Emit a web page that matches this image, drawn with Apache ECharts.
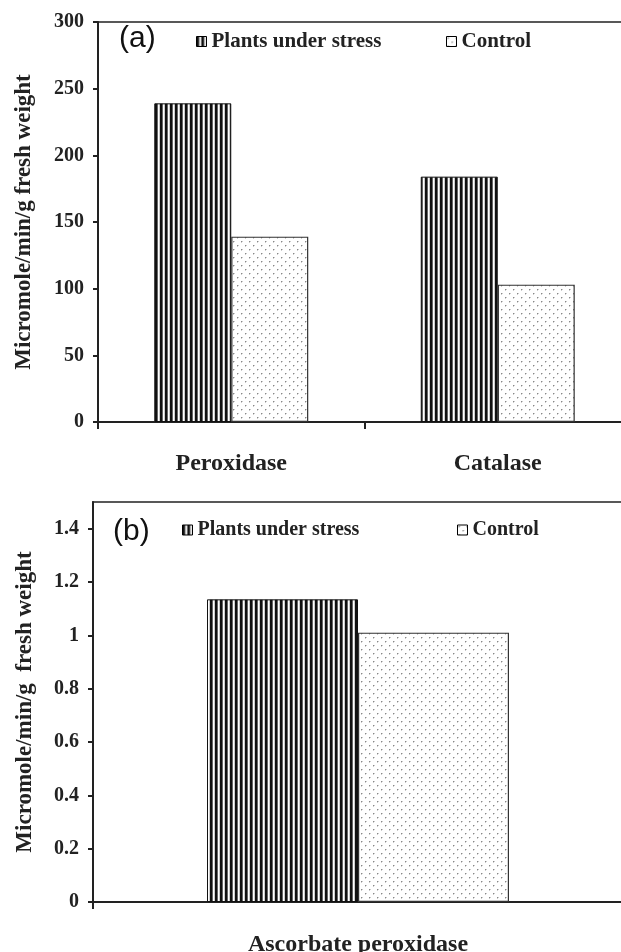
<!DOCTYPE html>
<html><head><meta charset="utf-8">
<script src="https://cdn.jsdelivr.net/npm/echarts@6/dist/echarts.min.js"></script>
<style>html,body{margin:0;padding:0;background:#fff}#c{width:621px;height:952px}</style>
</head><body><div id="c"></div>
<script>
// ---- data ----
const seriesNames = ['Plants under stress', 'Control'];
const categoriesA = ['Peroxidase', 'Catalase'];
const stressA = [239, 184];
const controlA = [139, 103];
const categoriesB = ['Ascorbate peroxidase'];
const stressB = [1.135];
const controlB = [1.01];
const yTicksB = [0, 0.2, 0.4, 0.6, 0.8, 1, 1.2, 1.4];
const yTitle = 'Micromole/min/g fresh weight';
const yTitleB = 'Micromole/min/g  fresh weight';

// ---- patterns ----
function stripes() {
  const c = document.createElement('canvas'); c.width = 5; c.height = 5;
  const g = c.getContext('2d');
  const cols = ['#111', '#111', '#666', '#fff', '#ccc'];
  cols.forEach((col, i) => { g.fillStyle = col; g.fillRect(i, 0, 1, 5); });
  return c;
}
function dots() {
  const c = document.createElement('canvas'); c.width = 8; c.height = 8;
  const g = c.getContext('2d');
  g.fillStyle = '#fff'; g.fillRect(0, 0, 8, 8);
  g.fillStyle = '#888'; g.fillRect(1, 1, 1, 1); g.fillRect(5, 5, 1, 1);
  g.fillStyle = '#ccc'; g.fillRect(2, 1, 1, 1); g.fillRect(6, 5, 1, 1);
  g.fillRect(1, 2, 1, 1); g.fillRect(5, 6, 1, 1);
  return c;
}
const stripePat = { image: stripes(), repeat: 'repeat' };
const dotPat = { image: dots(), repeat: 'repeat' };

const serif = '"Liberation Serif", "Times New Roman", serif';
const axisCol = '#222';

function legendItem(name, left, top, size) {
  return {
    data: [name], left: left, top: top, padding: 0, itemWidth: 10, itemHeight: 10,
    icon: 'rect', itemGap: 5, selectedMode: false,
    itemStyle: { borderColor: '#000', borderWidth: 1 },
    textStyle: { fontFamily: serif, fontWeight: 'bold', fontSize: size, color: '#222' }
  };
}

const chart = echarts.init(document.getElementById('c'), null, { renderer: 'canvas' });
chart.setOption({
  animation: false,
  backgroundColor: '#fff',
  grid: [
    { left: 98, top: 22, width: 533, height: 400, outerBoundsMode: 'none', containLabel: false,
      show: true, borderColor: axisCol, borderWidth: 1.5, backgroundColor: 'transparent' },
    { left: 93, top: 502, width: 530, height: 400, outerBoundsMode: 'none', containLabel: false,
      show: true, borderColor: axisCol, borderWidth: 1.5, backgroundColor: 'transparent' }
  ],
  legend: [
    legendItem(seriesNames[0], 196, 31, 21),
    legendItem(seriesNames[1], 446, 31, 21),
    legendItem(seriesNames[0], 182, 520, 20),
    legendItem(seriesNames[1], 457, 520, 20)
  ],
  graphic: [
    { type: 'text', left: 119, top: 24, style: { text: '(a)', font: '30px "Liberation Sans", Arial, sans-serif', fill: '#111' } },
    { type: 'text', left: 113, top: 517, style: { text: '(b)', font: '30px "Liberation Sans", Arial, sans-serif', fill: '#111' } }
  ],
  xAxis: [
    { type: 'category', gridIndex: 0, data: categoriesA,
      axisLine: { lineStyle: { color: axisCol, width: 2 } },
      axisTick: { show: true, length: 7, lineStyle: { color: axisCol, width: 2 } },
      axisLabel: { margin: 30, fontFamily: serif, fontWeight: 'bold', fontSize: 24, color: '#222' } },
    { type: 'category', gridIndex: 1, data: categoriesB,
      axisLine: { lineStyle: { color: axisCol, width: 2 } },
      axisTick: { show: true, length: 7, lineStyle: { color: axisCol, width: 2 } },
      axisLabel: { margin: 31, fontFamily: serif, fontWeight: 'bold', fontSize: 24, color: '#222' } }
  ],
  yAxis: [
    { type: 'value', gridIndex: 0, min: 0, max: 300, interval: 50,
      name: yTitle, nameLocation: 'middle', nameGap: 62, nameRotate: 90,
      nameTextStyle: { fontFamily: serif, fontWeight: 'bold', fontSize: 23, color: '#222' },
      axisLine: { show: true, lineStyle: { color: axisCol, width: 2 } },
      axisTick: { show: true, length: 5, lineStyle: { color: axisCol, width: 2 } },
      splitLine: { show: false },
      axisLabel: { margin: 14, fontFamily: serif, fontWeight: 'bold', fontSize: 20, color: '#222' } },
    { type: 'value', gridIndex: 1, min: 0, max: 1.5,
      name: yTitleB, nameLocation: 'middle', nameGap: 56, nameRotate: 90,
      nameTextStyle: { fontFamily: serif, fontWeight: 'bold', fontSize: 23, color: '#222' },
      axisLine: { show: true, lineStyle: { color: axisCol, width: 2 } },
      axisTick: { show: true, length: 5, customValues: yTicksB, lineStyle: { color: axisCol, width: 2 } },
      splitLine: { show: false },
      axisLabel: { margin: 14, customValues: yTicksB, fontFamily: serif, fontWeight: 'bold', fontSize: 20, color: '#222' } }
  ],
  series: [
    { name: seriesNames[0], type: 'bar', xAxisIndex: 0, yAxisIndex: 0, data: stressA, barWidth: 77, barGap: '0%',
      itemStyle: { color: stripePat, borderColor: '#111', borderWidth: 1 } },
    { name: seriesNames[1], type: 'bar', xAxisIndex: 0, yAxisIndex: 0, data: controlA, barWidth: 77, barGap: '0%',
      itemStyle: { color: dotPat, borderColor: '#333', borderWidth: 1.2 } },
    { name: seriesNames[0], type: 'bar', xAxisIndex: 1, yAxisIndex: 1, data: stressB, barWidth: 151, barGap: '0%',
      itemStyle: { color: stripePat, borderColor: '#111', borderWidth: 1 } },
    { name: seriesNames[1], type: 'bar', xAxisIndex: 1, yAxisIndex: 1, data: controlB, barWidth: 151, barGap: '0%',
      itemStyle: { color: dotPat, borderColor: '#333', borderWidth: 1.2 } }
  ]
});
</script></body></html>
